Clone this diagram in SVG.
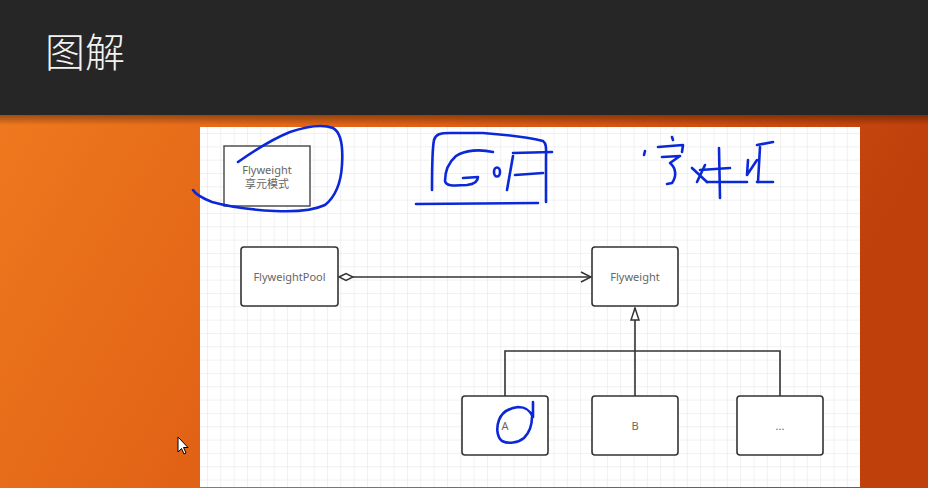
<svg xmlns="http://www.w3.org/2000/svg" width="928" height="488" viewBox="0 0 928 488">
<defs>
<linearGradient id="bg" x1="0" y1="0" x2="1" y2="0.3">
<stop offset="0" stop-color="#f07c20"/>
<stop offset="0.5" stop-color="#e05f14"/>
<stop offset="1" stop-color="#c0400c"/>
</linearGradient>
<linearGradient id="shadow" x1="0" y1="0" x2="0" y2="1">
<stop offset="0" stop-color="#000" stop-opacity="0.35"/>
<stop offset="1" stop-color="#000" stop-opacity="0"/>
</linearGradient>
<pattern id="grid" x="207" y="133" width="13.33" height="13.33" patternUnits="userSpaceOnUse">
<path d="M0 0H13.33M0 0V13.33" fill="none" stroke="#e3e3e3" stroke-width="1"/>
</pattern>
<marker id="open" viewBox="0 0 12 12" refX="11" refY="6" markerWidth="12" markerHeight="12" markerUnits="userSpaceOnUse" orient="auto">
<path d="M1 1L11 6L1 11" fill="none" stroke="#333" stroke-width="1.5"/>
</marker>
<marker id="diamond" viewBox="0 0 16 10" refX="1" refY="5" markerWidth="16" markerHeight="10" markerUnits="userSpaceOnUse" orient="auto">
<path d="M1 5L8 1.5L15 5L8 8.5Z" fill="#fff" stroke="#333" stroke-width="1.5"/>
</marker>
<marker id="tri" viewBox="0 0 14 10" refX="13" refY="5" markerWidth="14" markerHeight="10" markerUnits="userSpaceOnUse" orient="auto-start-reverse">
<path d="M13 5L1 1V9Z" fill="#fff" stroke="#333" stroke-width="1.5"/>
</marker>
</defs>
<style>
.node{fill:#fff;stroke:#333;stroke-width:1.6}
.lbl{font-family:"Noto Sans","Noto Sans CJK SC",sans-serif;font-size:11px;fill:#666;text-anchor:middle}
.edge{fill:none;stroke:#333;stroke-width:1.6}
.ink{fill:none;stroke:#0a28d8;stroke-width:2.6;stroke-linecap:round;stroke-linejoin:round}
</style>
<rect x="0" y="0" width="928" height="488" fill="url(#bg)"/>
<rect x="0" y="0" width="928" height="115" fill="#262626"/>
<rect x="0" y="115" width="928" height="10" fill="url(#shadow)"/>
<text x="45" y="67" font-family="'Noto Sans CJK SC',sans-serif" font-weight="300" font-size="40" fill="#f2f2f2">图解</text>
<rect x="200" y="127" width="660" height="360" fill="#fff"/>
<rect x="200" y="127" width="660" height="360" fill="url(#grid)"/>

<g id="note">
<rect x="224" y="146" width="86" height="60" fill="#fff" stroke="#444" stroke-width="1.4"/>
<text class="lbl" x="267" y="174">Flyweight</text>
<text class="lbl" x="267" y="188">享元模式</text>
</g>
<g id="pool">
<rect class="node" x="241" y="247" width="97" height="59" rx="3"/>
<text class="lbl" x="289.5" y="281">FlyweightPool</text>
</g>
<g id="flyweight">
<rect class="node" x="592" y="247" width="86" height="59" rx="3"/>
<text class="lbl" x="635" y="281">Flyweight</text>
</g>
<g id="a">
<rect class="node" x="462" y="396" width="86" height="59" rx="3"/>
<text class="lbl" x="505" y="430">A</text>
</g>
<g id="b">
<rect class="node" x="592" y="396" width="86" height="59" rx="3"/>
<text class="lbl" x="635" y="430">B</text>
</g>
<g id="more">
<rect class="node" x="737" y="396" width="86" height="59" rx="3"/>
<text class="lbl" x="780" y="430">...</text>
</g>

<g id="connectors">
<path class="edge" d="M339 277H591" marker-start="url(#diamond)" marker-end="url(#open)"/>
<path class="edge" d="M635 308V351" marker-start="url(#tri)"/>
<path class="edge" d="M635 351V396M505 396V351H780V396"/>
</g>

<g id="ink">
<path class="ink" d="M238 162C248 155 270 140 290 132C305 127 322 124 333 128C342 133 343 150 342 165C341 182 335 197 325 205C312 211 295 212 275 211C255 210 230 207 212 202C202 198 196 195 193 190"/>
<path class="ink" d="M432 190C432 170 432 150 434 140C436 134 440 133 450 133L483 133C510 135 530 138 543 141C547 144 546 150 546 160L546 202"/>
<path class="ink" d="M416 204L538 203"/>
<path class="ink" d="M493 152C480 149 465 150 456 156C448 163 445 172 445 181C446 186 452 186 467 185C475 184 478 181 478 177L463 178"/>
<ellipse class="ink" cx="497" cy="172" rx="3" ry="4.5"/>
<path class="ink" d="M507 190L513 156"/>
<path class="ink" d="M513 153L552 152"/>
<path class="ink" d="M515 175L543 173"/>

<path class="ink" d="M645 151L644 155"/>
<path class="ink" d="M672 137L673 140"/>
<path class="ink" d="M658 147L683 145L682 152"/>
<path class="ink" d="M662 157L680 156L670 163C676 168 677 176 672 183L667 184"/>
<path class="ink" d="M692 168L707 182M697 182L705 165"/>
<path class="ink" d="M719 148L720 198"/>
<path class="ink" d="M700 170L730 168"/>
<path class="ink" d="M707 182L747 182"/>
<path class="ink" d="M748 160L747 175L757 160"/>
<path class="ink" d="M760 147L758 182"/>
<path class="ink" d="M757 145L773 142"/>
<path class="ink" d="M757 182L773 182"/>

<path class="ink" d="M533 402L533 417C530 410 526 407 518 407C510 408 502 412 499 420C496 428 497 437 502 441C508 444 518 443 524 438C530 432 532 424 532 417"/>
</g>

<path d="M178 437L178 452L181.5 448.5L184 454L186 453L183.5 447.5L188 447.5Z" fill="#fff" stroke="#000" stroke-width="1"/>
</svg>
